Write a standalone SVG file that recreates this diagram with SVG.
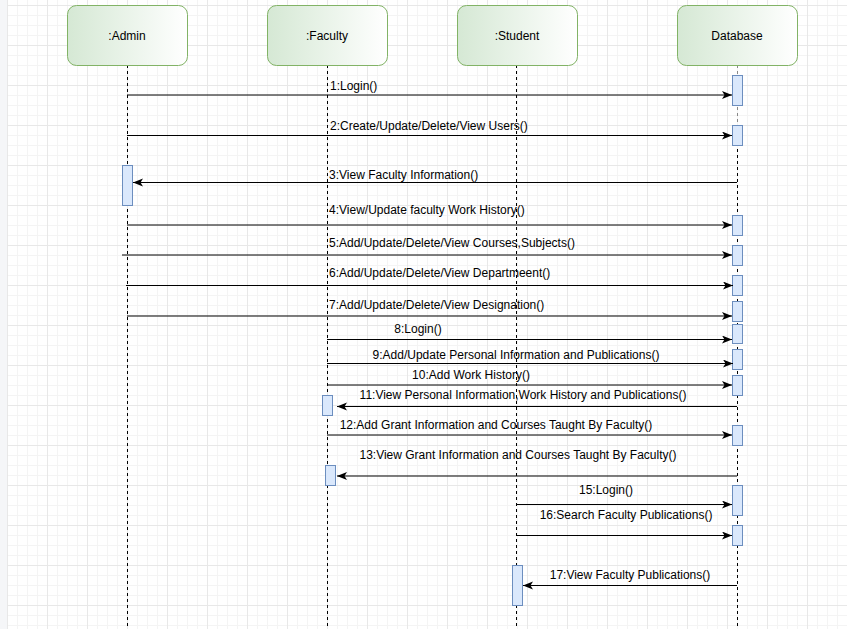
<svg xmlns="http://www.w3.org/2000/svg" width="847" height="629" viewBox="0 0 847 629">
<style>
  text { font-family: "Liberation Sans", Arial, Helvetica, sans-serif; font-size: 12px; fill: #000; }
  .actor rect { stroke: #82b366; stroke-width: 1; fill: url(#actorGrad); }
  .actor text { text-anchor: middle; }
  .life { stroke: #000; stroke-width: 1; stroke-dasharray: 3 3; fill: none; }
  .act { fill: #dae8fc; stroke: #6c8ebf; stroke-width: 1; }
  .msg { stroke: #000; stroke-width: 1; fill: none; marker-end: url(#arrow); }
  .lbl { text-anchor: start; }
  .lblc { text-anchor: middle; }
</style>
<defs>
  <linearGradient id="actorGrad" x1="0" y1="0" x2="1" y2="0">
    <stop offset="0" stop-color="#d5e8d4"/>
    <stop offset="1" stop-color="#ffffff"/>
  </linearGradient>
  <pattern id="grid" patternUnits="userSpaceOnUse" x="7" y="5" width="40" height="40">
    <rect width="40" height="40" fill="#ffffff"/>
    <path d="M10.5 0V40M20.5 0V40M30.5 0V40M0 10.5H40M0 20.5H40M0 30.5H40" stroke="#f4f4f4" stroke-width="1"/>
    <path d="M0.5 0V40M0 0.5H40" stroke="#e8e8e8" stroke-width="1"/>
  </pattern>
  <marker id="arrow" markerUnits="userSpaceOnUse" markerWidth="11" markerHeight="9" refX="10" refY="4" orient="auto">
    <path d="M0,0 L10,4 L0,8 L2.5,4 Z" fill="#000"/>
  </marker>
</defs>

<rect x="0" y="0" width="847" height="629" fill="#ffffff"/>
<rect x="7" y="0" width="840" height="629" fill="url(#grid)"/>
<rect x="0" y="0" width="7" height="629" fill="#f5f6f8"/>

<g id="lifelines">
  <path class="life" d="M127.5 65V629"/>
  <path class="life" d="M327.5 65V629"/>
  <path class="life" d="M516.5 65V629"/>
  <path class="life" d="M737.5 65V125" style="stroke:#888"/>
  <path class="life" d="M737.5 125V629"/>
</g>

<g id="admin" class="actor">
  <rect x="67.5" y="5.5" width="120" height="60" rx="9" ry="9"/>
  <text x="127" y="39.5">:Admin</text>
</g>
<g id="faculty" class="actor">
  <rect x="267.5" y="5.5" width="120" height="60" rx="9" ry="9"/>
  <text x="327" y="39.5">:Faculty</text>
</g>
<g id="student" class="actor">
  <rect x="457.5" y="5.5" width="120" height="60" rx="9" ry="9"/>
  <text x="517" y="39.5">:Student</text>
</g>
<g id="database" class="actor">
  <rect x="677.5" y="5.5" width="120" height="60" rx="9" ry="9"/>
  <text x="737" y="39.5">Database</text>
</g>

<g id="activations">
  <rect class="act" x="122.5" y="165.5" width="10" height="40"/>
  <rect class="act" x="322.5" y="395.5" width="10" height="20"/>
  <rect class="act" x="325.5" y="465.5" width="10" height="20"/>
  <rect class="act" x="512.5" y="565.5" width="10" height="40"/>
  <rect class="act" x="732.5" y="75.5" width="10" height="30"/>
  <rect class="act" x="732.5" y="125.5" width="10" height="20"/>
  <rect class="act" x="732.5" y="215.5" width="10" height="20"/>
  <rect class="act" x="732.5" y="245.5" width="10" height="20"/>
  <rect class="act" x="732.5" y="275.5" width="10" height="20"/>
  <rect class="act" x="732.5" y="301.5" width="10" height="20"/>
  <rect class="act" x="732.5" y="324.5" width="10" height="19"/>
  <rect class="act" x="732.5" y="349.5" width="10" height="20"/>
  <rect class="act" x="732.5" y="375.5" width="10" height="20"/>
  <rect class="act" x="732.5" y="425.5" width="10" height="20"/>
  <rect class="act" x="732.5" y="485.5" width="10" height="30"/>
  <rect class="act" x="732.5" y="525.5" width="10" height="20"/>
</g>

<g id="connectors">
  <path class="msg" d="M127 95H732"/>
  <path class="msg" d="M127 135.5H732"/>
  <path class="msg" d="M737 182.5H133"/>
  <path class="msg" d="M127 225H732"/>
  <path class="msg" d="M122 255H732"/>
  <path class="msg" d="M126 285.5H733"/>
  <path class="msg" d="M127 316H732"/>
  <path class="msg" d="M327 339.5H732"/>
  <path class="msg" d="M327 363.5H733"/>
  <path class="msg" d="M327 385H732"/>
  <path class="msg" d="M737 406.5H337"/>
  <path class="msg" d="M327 435H732"/>
  <path class="msg" d="M737 476H337"/>
  <path class="msg" d="M517 504.5H732"/>
  <path class="msg" d="M517 535.5H732"/>
  <path class="msg" d="M737 585.5H523"/>
</g>

<g id="labels">
  <text class="lbl" x="330" y="90">1:Login()</text>
  <text class="lbl" x="330" y="130">2:Create/Update/Delete/View Users()</text>
  <text class="lbl" x="329" y="179">3:View Faculty Information()</text>
  <text class="lbl" x="329" y="214">4:View/Update faculty Work History()</text>
  <text class="lbl" x="329" y="247">5:Add/Update/Delete/View Courses,Subjects()</text>
  <text class="lbl" x="329" y="277">6:Add/Update/Delete/View Departmeent()</text>
  <text class="lbl" x="329" y="309">7:Add/Update/Delete/View Designation()</text>
  <text class="lblc" x="418" y="333">8:Login()</text>
  <text class="lblc" x="516" y="359">9:Add/Update Personal Information and Publications()</text>
  <text class="lblc" x="471" y="378.5">10:Add Work History()</text>
  <text class="lblc" x="523" y="399">11:View Personal Information,Work History and Publications()</text>
  <text class="lblc" x="496" y="429">12:Add Grant Information and Courses Taught By Faculty()</text>
  <text class="lblc" x="518" y="458.5">13:View Grant Information and Courses Taught By Faculty()</text>
  <text class="lblc" x="606" y="493.5">15:Login()</text>
  <text class="lblc" x="626" y="519">16:Search Faculty Publications()</text>
  <text class="lblc" x="630" y="578.5">17:View Faculty Publications()</text>
</g>
</svg>
